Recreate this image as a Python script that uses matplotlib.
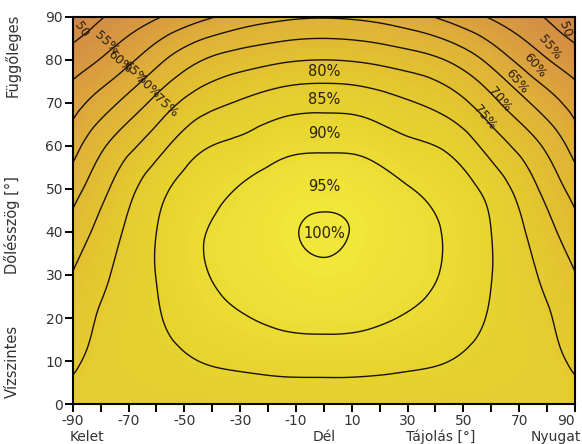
import numpy as np
import matplotlib
matplotlib.use('Agg')
import matplotlib.pyplot as plt
import matplotlib.tri as mtri
from matplotlib.colors import LinearSegmentedColormap
from matplotlib.transforms import blended_transform_factory

# Tájolás (azimut, fok) és dőlésszög (fok) rácspontjai
tajolas = [-90, -75, -60, -45, -30, -15, 0, 15, 30, 45, 60, 75, 90]
doles = [0, 10, 20, 30, 40, 50, 60, 70, 80, 90]

# Relatív besugárzás (%) a rácspontokban - a képről becsült értékek
besugarzas = [
    [86.7, 86.7, 86.7, 86.7, 86.7, 86.7, 86.7, 86.7, 86.7, 86.7, 86.7, 86.7, 86.7],
    [84.2, 87.3, 88.6, 90.0, 91.0, 91.8, 92.0, 91.8, 91.0, 90.0, 88.6, 87.3, 84.2],
    [82.2, 86.8, 89.6, 92.6, 94.6, 96.0, 96.5, 96.0, 94.6, 92.6, 89.6, 86.8, 82.2],
    [80.2, 85.5, 90.1, 94.2, 96.6, 98.3, 99.3, 98.3, 96.6, 94.2, 90.1, 85.5, 80.2],
    [77.0, 83.8, 90.0, 94.4, 97.0, 99.3, 100.4, 99.3, 97.0, 94.4, 90.0, 83.8, 77.0],
    [73.0, 81.0, 88.2, 92.8, 95.3, 97.8, 98.6, 97.8, 95.3, 92.8, 88.2, 81.0, 73.0],
    [68.0, 76.5, 83.0, 89.0, 91.2, 93.6, 94.2, 93.6, 91.2, 89.0, 83.0, 76.5, 68.0],
    [63.0, 69.5, 76.5, 82.5, 85.5, 87.8, 88.5, 87.8, 85.5, 82.5, 76.5, 69.5, 63.0],
    [57.2, 62.0, 68.5, 74.5, 77.5, 79.3, 80.0, 79.3, 77.5, 74.5, 68.5, 62.0, 57.2],
    [51.5, 56.0, 59.5, 63.5, 67.0, 69.0, 69.7, 69.0, 67.0, 63.5, 59.5, 56.0, 51.5],
]

szintek = [50, 55, 60, 65, 70, 75, 80, 85, 90, 95, 100]

# Feliratok a sarkokban (bal és jobb oldal), valamint középen
sarok_felirat = ['50', '55%', '60%', '65%', '70%', '75%']
bal_x = [-86.8, -77.8, -73.2, -67.8, -63.1, -56.7]
bal_y = [87.0, 84.0, 79.5, 77.0, 73.7, 69.3]
jobb_x = [86.3, 81.0, 75.6, 69.1, 63.0, 57.7]
jobb_y = [87.0, 83.0, 78.8, 74.9, 70.7, 66.7]
kozep_felirat = ['80%', '85%', '90%', '95%', '100%']
kozep_y = [77.2, 70.9, 63.0, 50.5, 39.6]

X, Y = np.meshgrid(tajolas, doles)
Z = np.array(besugarzas)

tri = mtri.Triangulation(X.ravel(), Y.ravel())
interp = mtri.CubicTriInterpolator(tri, Z.ravel(), kind='min_E')
refiner = mtri.UniformTriRefiner(tri)
tri_fine, z_fine = refiner.refine_field(Z.ravel(), triinterpolator=interp, subdiv=4)

szinek = LinearSegmentedColormap.from_list('napsugar', [
    (0.0, '#cf8248'),
    (0.2, '#d99a40'),
    (0.4, '#dfb238'),
    (0.6, '#e2c230'),
    (0.8, '#e7d42e'),
    (1.0, '#f2e83c'),
])

fig = plt.figure(figsize=(5.82, 4.44), dpi=100)
ax = fig.add_axes([0.125, 0.09, 0.863, 0.872])

ax.tricontourf(tri_fine, z_fine, levels=np.linspace(48, 102, 80), cmap=szinek,
               vmin=50, vmax=101)
ax.tricontour(tri_fine, z_fine, levels=szintek, colors='#1a1208', linewidths=1.0)

szoveg = '#2a2010'
for i, t in enumerate(sarok_felirat):
    r_bal = -55 if i == 0 else -42
    r_jobb = -70 if i == 0 else -50
    ax.text(bal_x[i], bal_y[i], t, rotation=r_bal, ha='center', va='center',
            fontsize=9, color=szoveg, rotation_mode='anchor')
    ax.text(jobb_x[i], jobb_y[i], t, rotation=r_jobb, ha='center', va='center',
            fontsize=9, color=szoveg, rotation_mode='anchor')
for t, y in zip(kozep_felirat, kozep_y):
    ax.text(0, y, t, ha='center', va='center', fontsize=10.5, color=szoveg)

ax.set_xlim(-90, 90)
ax.set_ylim(0, 90)
xt = list(range(-90, 91, 10))
ax.set_xticks(xt)
ax.set_xticklabels([str(v) if v % 20 != 0 else '' for v in xt])
ax.set_yticks(range(0, 91, 10))
ax.tick_params(direction='out', length=6, width=1.4, labelsize=10,
               labelcolor='#333333', pad=1)
ax.get_xticklabels()[-1].set_horizontalalignment('right')
for s in ax.spines.values():
    s.set_linewidth(1.5)

cimke = dict(fontsize=10, color='#333333')
tr = blended_transform_factory(ax.transData, ax.transAxes)
ax.text(-91, -0.095, 'Kelet', transform=tr, ha='left', va='baseline', **cimke)
ax.text(0, -0.095, 'Dél', transform=tr, ha='center', va='baseline', **cimke)
ax.text(42, -0.095, 'Tájolás [°]', transform=tr, ha='center', va='baseline', **cimke)
ax.text(92, -0.095, 'Nyugat', transform=tr, ha='right', va='baseline', **cimke)

tr2 = blended_transform_factory(ax.transAxes, ax.transData)
cimke_y = dict(fontsize=10.5, color='#333333')
ax.text(-0.12, 81, 'Függőleges', transform=tr2, rotation=90, ha='center', va='center', **cimke_y)
ax.text(-0.12, 41.5, 'Dőlésszög [°]', transform=tr2, rotation=90, ha='center', va='center', **cimke_y)
ax.text(-0.12, 10, 'Vízszintes', transform=tr2, rotation=90, ha='center', va='center', **cimke_y)

fig.savefig('out.png', dpi=100)
